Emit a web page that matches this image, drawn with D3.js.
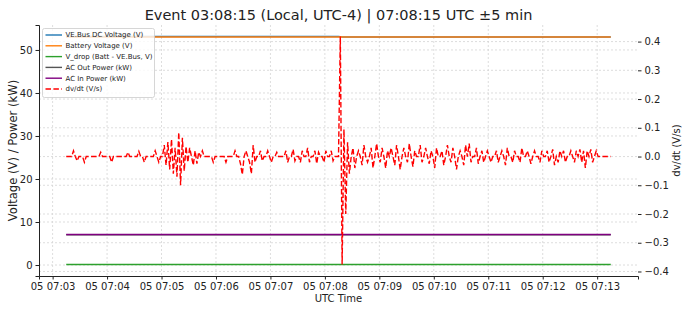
<!DOCTYPE html>
<html>
<head>
<meta charset="utf-8">
<script src="https://cdn.jsdelivr.net/npm/d3@7"></script>
<style>
  body { margin: 0; background: #fff; }
  svg { font-family: "DejaVu Sans", sans-serif; }
</style>
</head>
<body>
<div id="chart"></div>
<script>
// window is 07:03:15 .. 07:13:15 UTC, event at 07:08:15
const startTime = "2025-01-05T07:03:15Z";

// slow series, seconds from start
const slowSeconds = [0, 60, 120, 180, 240, 300, 302, 304, 360, 420, 480, 540, 600];
const veBusVoltage = [53.15, 53.15, 53.15, 53.15, 53.15, 53.15, 53.1, 53.0, 53.0, 53.0, 53.0, 53.0, 53.0];
const batteryVoltage = [53.0, 53.0, 53.0, 53.0, 53.0, 53.0, 53.05, 53.0, 53.0, 53.0, 53.0, 53.0, 53.0];
const vDrop = [0.1, 0.1, 0.1, 0.1, 0.1, 0.1, 0.1, 0.15, 0.15, 0.15, 0.15, 0.15, 0.15];
const acOutPower = [7.05, 7.05, 7.05, 7.05, 7.05, 7.05, 7.05, 7.05, 7.05, 7.05, 7.05, 7.05, 7.05];
const acInPower = [7.1, 7.1, 7.1, 7.1, 7.1, 7.1, 7.1, 7.1, 7.1, 7.1, 7.1, 7.1, 7.1];

// dv/dt sampled every 2 s (one row per minute)
const dvdtStep = 2;
const dvdt = [
  0, 0, 0, 0, .02, 0, -.015, 0, 0, 0, -.02, 0, 0, 0, 0, 0, 0, 0, 0, .015, 0, 0, 0, 0, 0, -.02, 0, 0, 0, 0,
  0, 0, 0, 0, .015, 0, 0, 0, 0, 0, .018, 0, 0, -.02, 0, 0, 0, 0, 0, .02, 0, -.02, 0, 0, .04, -.03, .05, -.045, .06, -.06,
  .03, -.07, .084, -.1, .065, -.05, .035, -.02, .03, 0, -.03, .02, -.025, .015, 0, .02, 0, 0, 0, 0, 0, -.02, 0, 0, 0, 0, 0, 0, -.02, 0,
  0, 0, 0, .02, 0, 0, -.025, -.063, 0, .02, 0, -.02, -.06, .04, -.02, 0, 0, .02, -.015, 0, 0, .02, 0, -.02, 0, 0, .015, 0, 0, 0,
  0, .02, -.02, 0, 0, .025, -.015, 0, 0, -.02, .02, 0, 0, .03, -.02, 0, 0, .02, -.025, .015, 0, 0, -.02, .02, 0, 0, .02, -.015, 0, 0,
  0, .418, -.376, .095, -.2, .05, -.06, 0, .03, -.04, 0, .02, 0, -.03, .04, 0, -.02, 0, .03, -.04, 0, .045, 0, -.02, .03, 0, -.04, .02, 0, .03,
  0, -.03, .04, 0, -.045, 0, .03, 0, -.02, .045, 0, -.035, .02, 0, 0, .04, -.02, 0, .03, 0, -.025, .02, 0, -.04, .03, 0, 0, .02, -.03, 0,
  .04, 0, -.02, .03, 0, -.045, 0, .02, 0, -.03, .04, 0, .045, -.02, 0, 0, .03, -.025, 0, .02, -.02, 0, .02, 0, -.02, 0, 0, .02, -.02, 0,
  .02, 0, -.03, .03, 0, 0, -.02, .02, 0, 0, -.02, .03, 0, 0, .02, 0, -.025, 0, .02, 0, 0, -.02, .02, 0, 0, .02, -.02, 0, .025, -.03,
  0, -.02, .02, 0, .02, -.02, 0, 0, .02, 0, -.02, .02, 0, .025, -.02, .02, -.04, .02, 0, .025, -.02, 0, .02, 0, 0, 0, 0, 0, 0, 0,
  0
];

const leftTicks = [0, 10, 20, 30, 40, 50];
const rightTicks = [-0.4, -0.3, -0.2, -0.1, 0.0, 0.1, 0.2, 0.3, 0.4];

const titleText = "Event 03:08:15 (Local, UTC-4) | 07:08:15 UTC \u00b15 min";

const W = 690, H = 313;
const margin = { top: 25, right: 52, bottom: 37, left: 39 };
const width = W - margin.left - margin.right;
const height = H - margin.top - margin.bottom;

const t0 = new Date(startTime);
const at = s => new Date(t0.getTime() + s * 1000);

const slowRows = slowSeconds.map((s, i) => ({
  time: at(s),
  veBus: veBusVoltage[i],
  battery: batteryVoltage[i],
  vdrop: vDrop[i],
  acOut: acOutPower[i],
  acIn: acInPower[i]
}));
const dvdtRows = dvdt.map((v, i) => ({ time: at(i * dvdtStep), v: v }));

function padded(lo, hi) {
  const p = (hi - lo) * 0.05;
  return [lo - p, hi + p];
}

const x = d3.scaleUtc()
  .domain(padded(+at(0), +at(600)).map(d => new Date(d)))
  .range([0, width]);

const leftVals = slowRows.flatMap(d => [d.veBus, d.battery, d.vdrop, d.acOut, d.acIn]);
const y = d3.scaleLinear()
  .domain(padded(d3.min(leftVals), d3.max(leftVals)))
  .range([height, 0]);

const y2 = d3.scaleLinear()
  .domain(padded(d3.min(dvdt), d3.max(dvdt)))
  .range([height, 0]);

const svg = d3.select("#chart").append("svg")
  .attr("width", W)
  .attr("height", H);

const g = svg.append("g")
  .attr("transform", `translate(${margin.left},${margin.top})`);

const xTicks = d3.utcMinute.range(x.domain()[0], x.domain()[1]);

// grid
const grid = g.append("g")
  .attr("stroke", "#d4d4d4")
  .attr("stroke-width", 0.8)
  .attr("stroke-dasharray", "2,2");
grid.selectAll(".gx").data(xTicks).enter().append("line")
  .attr("x1", d => x(d)).attr("x2", d => x(d))
  .attr("y1", 0).attr("y2", height);
grid.selectAll(".gy").data(leftTicks).enter().append("line")
  .attr("x1", 0).attr("x2", width)
  .attr("y1", d => y(d)).attr("y2", d => y(d));
grid.selectAll(".gy2").data(rightTicks).enter().append("line")
  .attr("x1", 0).attr("x2", width)
  .attr("y1", d => y2(d)).attr("y2", d => y2(d));

const series = [
  { key: "veBus", label: "VE.Bus DC Voltage (V)", color: "#1f77b4" },
  { key: "battery", label: "Battery Voltage (V)", color: "#ff7f0e" },
  { key: "vdrop", label: "V_drop (Batt - VE.Bus, V)", color: "#2ca02c" },
  { key: "acOut", label: "AC Out Power (kW)", color: "#555555" },
  { key: "acIn", label: "AC In Power (kW)", color: "#800080" }
];

series.forEach(s => {
  g.append("path")
    .datum(slowRows)
    .attr("fill", "none")
    .attr("stroke", s.color)
    .attr("stroke-width", 1.5)
    .attr("d", d3.line().x(d => x(d.time)).y(d => y(d[s.key])));
});

g.append("path")
  .datum(dvdtRows)
  .attr("fill", "none")
  .attr("stroke", "#ff0000")
  .attr("stroke-width", 1.4)
  .attr("stroke-dasharray", "5.5,2.4")
  .attr("d", d3.line().x(d => x(d.time)).y(d => y2(d.v)));

// axes
const xAxis = g.append("g")
  .attr("transform", `translate(0,${height})`)
  .call(d3.axisBottom(x).tickValues(xTicks).tickFormat(d3.utcFormat("%d %H:%M")).tickSizeOuter(0).tickSize(3.5));

const yAxis = g.append("g")
  .call(d3.axisLeft(y).tickValues(leftTicks).tickFormat(d3.format("d")).tickSizeOuter(0).tickSize(3.5));

const y2Axis = g.append("g")
  .attr("transform", `translate(${width},0)`)
  .call(d3.axisRight(y2).tickValues(rightTicks).tickFormat(d => d3.format(".1f")(d).replace("-", "\u2212")).tickSize(3.5));
y2Axis.select(".domain").remove();

[xAxis, yAxis, y2Axis].forEach(a => {
  a.selectAll("text").attr("font-size", 10).attr("fill", "#222").attr("font-family", "DejaVu Sans");
  a.selectAll("line").attr("stroke", "#222");
  a.select(".domain").attr("stroke", "#222");
});

// labels
svg.append("text")
  .attr("x", margin.left + width / 2)
  .attr("y", 20)
  .attr("text-anchor", "middle")
  .attr("font-size", 14.5)
  .attr("fill", "#222")
  .text(titleText);

svg.append("text")
  .attr("x", margin.left + width / 2)
  .attr("y", 302)
  .attr("text-anchor", "middle")
  .attr("font-size", 10)
  .attr("fill", "#222")
  .text("UTC Time");

svg.append("text")
  .attr("transform", `translate(17,${margin.top + height / 2}) rotate(-90)`)
  .attr("text-anchor", "middle")
  .attr("font-size", 11.6)
  .attr("fill", "#222")
  .text("Voltage (V) / Power (kW)");

svg.append("text")
  .attr("transform", `translate(680,${margin.top + height / 2}) rotate(-90)`)
  .attr("text-anchor", "middle")
  .attr("font-size", 10)
  .attr("fill", "#222")
  .text("dv/dt (V/s)");

// legend
const legendItems = series.map(s => ({ label: s.label, color: s.color, dash: null }))
  .concat([{ label: "dv/dt (V/s)", color: "#ff0000", dash: "5.5,2.4" }]);

const legend = g.append("g").attr("transform", "translate(3.5,3.5)");
legend.append("rect")
  .attr("width", 112)
  .attr("height", 69)
  .attr("rx", 2)
  .attr("fill", "#fff")
  .attr("fill-opacity", 0.8)
  .attr("stroke", "#cccccc")
  .attr("stroke-width", 0.8);

const rows = legend.selectAll(".item").data(legendItems).enter().append("g")
  .attr("transform", (d, i) => `translate(0,${6.5 + i * 10.8})`);
rows.append("line")
  .attr("x1", 3).attr("x2", 19.5)
  .attr("stroke", d => d.color)
  .attr("stroke-width", 1.4)
  .attr("stroke-dasharray", d => d.dash);
rows.append("text")
  .attr("x", 23)
  .attr("dy", "0.35em")
  .attr("font-size", 7)
  .attr("fill", "#222")
  .text(d => d.label);
</script>
</body>
</html>
